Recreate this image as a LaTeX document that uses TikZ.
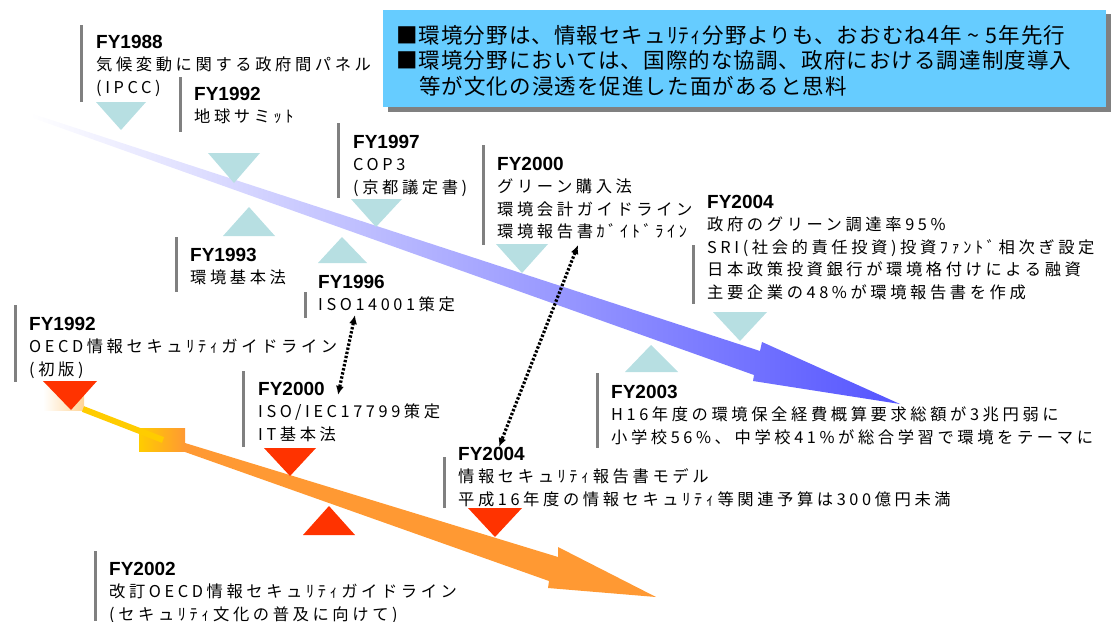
\documentclass[tikz,border=0pt]{standalone}
\usepackage{fontspec}
\newfontfamily\jp{Noto Sans CJK JP}[LetterSpace=22]
\newfontfamily\jpbox{Noto Sans CJK JP}[LetterSpace=5]
\newfontfamily\hd{Liberation Sans}
\usetikzlibrary{arrows.meta}
\definecolor{envcol}{RGB}{183,223,226}
\definecolor{infocol}{RGB}{255,51,0}
\definecolor{barcol}{RGB}{128,128,128}
\definecolor{boxcol}{RGB}{102,204,255}
\definecolor{bluearr}{RGB}{85,85,255}
\definecolor{orgarr}{RGB}{255,153,51}
\definecolor{yelarr}{RGB}{255,204,0}
\definecolor{paleorg}{RGB}{255,212,150}
\newcommand\blkfont{\jp\fontsize{16.3}{22.5}\selectfont}
\newcommand\fy[1]{{\hd\bfseries\fontsize{19}{22.5}\selectfont #1}}
\tikzset{
  blk/.style={anchor=north west, inner sep=0pt, align=left, font=\blkfont},
  boxtxt/.style={anchor=north west, inner sep=0pt, align=left, font={\jpbox\fontsize{21.5}{25.5}\selectfont}},
  gbar/.style={draw=barcol, line width=3pt},
  envtri/.style={fill=envcol},
  infotri/.style={fill=infocol},
  dotarr/.style={line width=3.2pt, dash pattern=on 2.4pt off 1.8pt,
    {Latex[length=9pt,width=8pt]}-{Latex[length=9pt,width=8pt]}}
}
\begin{document}
\begin{tikzpicture}[x=1pt,y=-1pt]
\useasboundingbox (0,0) rectangle (1116,621);

% summary box
\fill[barcol] (388,14) rectangle (1111,112);
\fill[boxcol] (383,10) rectangle (1106,107);
\node[boxtxt] (note) at (396,25) {■環境分野は、情報セキュﾘﾃｨ分野よりも、おおむね4年 \textasciitilde{} 5年先行\\■環境分野においては、国際的な協調、政府における調達制度導入\\\hspace*{23pt}等が文化の浸透を促進した面があると思料};

% blue (environment) arrow
\shade[left color=white, right color=bluearr] (30,113) -- (760,351) -- (762,342) -- (900,404) -- (753,381) -- (754,375) -- (30,117) -- cycle;

% orange (information security) arrow
\shade[left color=white, right color=paleorg] (43,382) rectangle (84,410);
\shade[left color=yelarr, right color=orgarr] (139,428) rectangle (185,451);
\draw[yelarr, line width=6pt] (83,409) -- (163,440);
\fill[orgarr] (185,443) -- (558,557) -- (558,547) -- (656,597) -- (548,588) -- (549,581) -- (185,452) -- cycle;

% environment triangles
\fill[envtri] (96,102) -- (146,102) -- (121,130) -- cycle;
\fill[envtri] (208,153) -- (260,153) -- (234,183) -- cycle;
\fill[envtri] (223,236) -- (275,236) -- (249,207) -- cycle;
\fill[envtri] (351,199) -- (402,199) -- (376,227) -- cycle;
\fill[envtri] (318,263) -- (367,263) -- (342,237) -- cycle;
\fill[envtri] (496,244) -- (548,244) -- (522,273) -- cycle;
\fill[envtri] (713,312) -- (767,312) -- (740,341) -- cycle;
\fill[envtri] (625,372) -- (678,372) -- (651,345) -- cycle;

% information security triangles
\fill[infotri] (43,381) -- (97,381) -- (71,410) -- cycle;
\fill[infotri] (264,448) -- (316,448) -- (290,476) -- cycle;
\fill[infotri] (303,535) -- (355,535) -- (329,506) -- cycle;
\fill[infotri] (468,508) -- (522,508) -- (495,537) -- cycle;

% grey bars
\draw[gbar] (81,25) -- (81,102);
\draw[gbar] (180,77) -- (180,132);
\draw[gbar] (338,123) -- (338,198);
\draw[gbar] (483,145) -- (483,245);
\draw[gbar] (693,245) -- (693,304);
\draw[gbar] (176,237) -- (176,292);
\draw[gbar] (305,292) -- (305,318);
\draw[gbar] (15,305) -- (15,382);
\draw[gbar] (243,371) -- (243,447);
\draw[gbar] (444,457) -- (444,508);
\draw[gbar] (597,373) -- (597,448);
\draw[gbar] (95,551) -- (95,621);

% environment texts
\node[blk] (e1988) at (96,35) {\fy{FY1988}\\気候変動に関する政府間パネル\\(IPCC)};
\node[blk] (e1992) at (194,87) {\fy{FY1992}\\地球サミｯﾄ};
\node[blk] (e1997) at (353,135) {\fy{FY1997}\\COP3\\(京都議定書)};
\node[blk] (e2000) at (497,157) {\fy{FY2000}\\グリーン購入法\\環境会計ガイドライン\\環境報告書ｶﾞｲﾄﾞﾗｲﾝ};
\node[blk] (e2004) at (707,195) {\fy{FY2004}\\政府のグリーン調達率95\%\\SRI(社会的責任投資)投資ﾌｧﾝﾄﾞ相次ぎ設定\\日本政策投資銀行が環境格付けによる融資\\主要企業の48\%が環境報告書を作成};
\node[blk] (e1993) at (190,248) {\fy{FY1993}\\環境基本法};
\node[blk] (e1996) at (318,275) {\fy{FY1996}\\ISO14001策定};
\node[blk] (e2003) at (611,385) {\fy{FY2003}\\H16年度の環境保全経費概算要求総額が3兆円弱に\\小学校56\%、中学校41\%が総合学習で環境をテーマに};

% information security texts
\node[blk] (i1992) at (29,317) {\fy{FY1992}\\OECD情報セキュﾘﾃｨガイドライン\\(初版)};
\node[blk] (i2000) at (258,382) {\fy{FY2000}\\ISO/IEC17799策定\\IT基本法};
\node[blk] (i2004) at (458,447) {\fy{FY2004}\\情報セキュﾘﾃｨ報告書モデル\\平成16年度の情報セキュﾘﾃｨ等関連予算は300億円未満};
\node[blk] (i2002) at (109,562) {\fy{FY2002}\\改訂OECD情報セキュﾘﾃｨガイドライン\\(セキュﾘﾃｨ文化の普及に向けて)};

% dotted correspondences
\coordinate (isoE) at (355,315);
\coordinate (isoI) at (338,395);
\coordinate (repE) at (578,245);
\coordinate (repI) at (499,447);
\draw[dotarr] (isoE) -- (isoI);
\draw[dotarr] (repE) -- (repI);
\end{tikzpicture}
\end{document}
